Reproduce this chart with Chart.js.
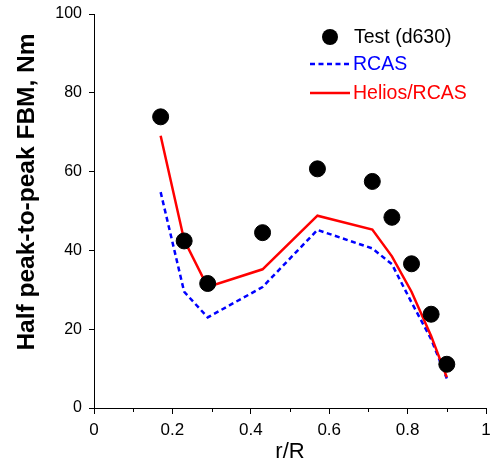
<!DOCTYPE html>
<html>
<head>
<meta charset="utf-8">
<script src="https://cdn.jsdelivr.net/npm/chart.js@4"></script>
<style>
  html, body { margin: 0; padding: 0; background: #fff; }
  #chart { display: block; }
</style>
</head>
<body>
<canvas id="chart" width="495" height="465"></canvas>
<script>
// Data
const radius = [0.17, 0.23, 0.29, 0.43, 0.57, 0.71, 0.76, 0.81, 0.86, 0.90];
const testValues = [73.9, 42.4, 31.6, 44.5, 60.7, 57.5, 48.4, 36.6, 23.8, 11.1];
const rcasValues = [54.8, 29.5, 23.0, 30.7, 45.2, 40.5, 36.5, 26.8, 17.5, 7.5];
const heliosValues = [69.1, 42.6, 30.7, 35.2, 48.8, 45.3, 38.5, 29.5, 18.3, 7.8];
const xTickLabels = ['0', '0.2', '0.4', '0.6', '0.8', '1'];
const yTickLabels = ['0', '20', '40', '60', '80', '100'];

const FONT = 'Arial, "Liberation Sans", sans-serif';
Chart.defaults.font.family = FONT;

// Pair x and y arrays for the scatter scales
function toPoints(values) {
  return radius.map((r, i) => ({ x: r, y: values[i] }));
}

function isMajor(v) {
  return Math.abs(v * 5 - Math.round(v * 5)) < 1e-6;
}

// Legend, y title and short minor ticks drawn by hand
const extrasPlugin = {
  id: 'extras',
  afterDraw(chart) {
    const ctx = chart.ctx;
    const xs = chart.scales.x;
    const area = chart.chartArea;

    // minor ticks on x axis
    ctx.save();
    ctx.strokeStyle = '#000';
    ctx.lineWidth = 1;
    for (let i = 1; i < 10; i += 2) {
      const px = Math.round(xs.getPixelForValue(i / 10)) + 0.5;
      ctx.beginPath();
      ctx.moveTo(px, area.bottom);
      ctx.lineTo(px, area.bottom + 4);
      ctx.stroke();
    }

    // y axis title
    ctx.translate(27, 192);
    ctx.rotate(-Math.PI / 2);
    ctx.font = 'bold 24.5px ' + FONT;
    ctx.fillStyle = '#000';
    ctx.textAlign = 'center';
    ctx.textBaseline = 'middle';
    ctx.fillText('Half peak-to-peak FBM, Nm', 0, 0);
    ctx.restore();

    // legend
    ctx.save();
    ctx.font = '19.5px ' + FONT;
    ctx.textAlign = 'left';
    ctx.textBaseline = 'middle';

    ctx.fillStyle = '#000';
    ctx.beginPath();
    ctx.arc(330, 37, 8, 0, Math.PI * 2);
    ctx.fill();
    ctx.fillText('Test (d630)', 354, 38);

    ctx.strokeStyle = '#0000ff';
    ctx.lineWidth = 2.5;
    ctx.setLineDash([5, 3.5]);
    ctx.beginPath();
    ctx.moveTo(310, 64);
    ctx.lineTo(350, 64);
    ctx.stroke();
    ctx.fillStyle = '#0000ff';
    ctx.fillText('RCAS', 353, 65);

    ctx.strokeStyle = '#ff0000';
    ctx.setLineDash([]);
    ctx.beginPath();
    ctx.moveTo(310, 93);
    ctx.lineTo(350, 93);
    ctx.stroke();
    ctx.fillStyle = '#ff0000';
    ctx.fillText('Helios/RCAS', 353, 94);
    ctx.restore();
  }
};

new Chart(document.getElementById('chart'), {
  type: 'scatter',
  data: {
    datasets: [
      {
        label: 'Test (d630)',
        data: toPoints(testValues),
        pointRadius: 8,
        pointHoverRadius: 8,
        backgroundColor: '#000',
        borderColor: '#000',
        showLine: false,
        order: 0
      },
      {
        label: 'Helios/RCAS',
        data: toPoints(heliosValues),
        showLine: true,
        pointRadius: 0,
        borderColor: '#ff0000',
        borderWidth: 2.5,
        tension: 0,
        order: 1
      },
      {
        label: 'RCAS',
        data: toPoints(rcasValues),
        showLine: true,
        pointRadius: 0,
        borderColor: '#0000ff',
        borderWidth: 2.5,
        borderDash: [5, 3.5],
        tension: 0,
        order: 2
      }
    ]
  },
  options: {
    responsive: false,
    animation: false,
    devicePixelRatio: 1,
    layout: { padding: { left: 0, right: 4, top: 14, bottom: 0 } },
    plugins: {
      legend: { display: false },
      tooltip: { enabled: false }
    },
    scales: {
      x: {
        type: 'linear',
        min: 0,
        max: 1,
        afterFit: (s) => { s.height = 57; s.paddingLeft = 0; s.paddingRight = 0; },
        border: { display: true, color: '#000', width: 1 },
        grid: {
          drawOnChartArea: false,
          drawTicks: true,
          tickLength: 6,
          color: (c) => (c.tick && isMajor(c.tick.value) ? '#000' : 'rgba(0,0,0,0)')
        },
        ticks: {
          stepSize: 0.1,
          padding: 6,
          color: '#000',
          font: { size: 17 },
          maxRotation: 0,
          autoSkip: false,
          callback: (v) => (isMajor(v) ? xTickLabels[Math.round(v * 5)] : '')
        },
        title: {
          display: true,
          text: 'r/R',
          color: '#000',
          font: { size: 22 },
          padding: { top: 0, bottom: 0 }
        }
      },
      y: {
        type: 'linear',
        min: 0,
        max: 100,
        afterFit: (s) => { s.width = 94; s.paddingTop = 0; s.paddingBottom = 0; },
        border: { display: true, color: '#000', width: 1 },
        grid: {
          drawOnChartArea: false,
          drawTicks: true,
          tickLength: 5,
          color: '#000'
        },
        ticks: {
          stepSize: 20,
          padding: 7,
          color: '#000',
          font: { size: 16 },
          callback: (v) => yTickLabels[Math.round(v / 20)]
        }
      }
    }
  },
  plugins: [extrasPlugin]
});
</script>
</body>
</html>
